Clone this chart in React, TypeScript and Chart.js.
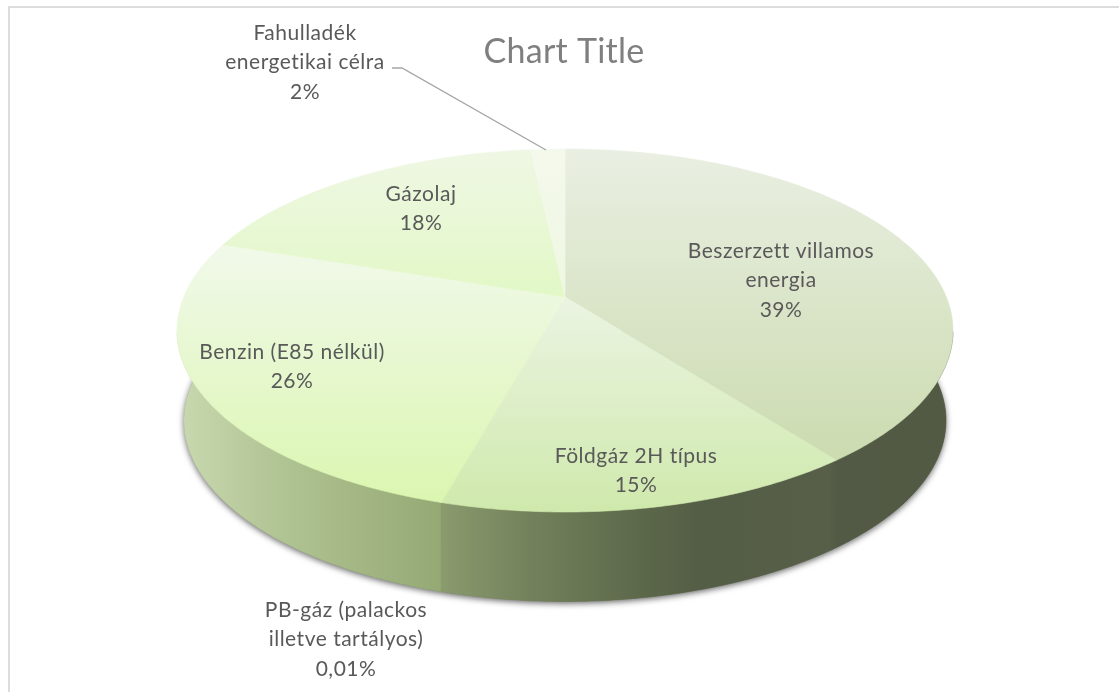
import React, { useEffect, useRef } from "react";
import { Chart, registerables } from "chart.js";

Chart.register(...registerables);

const categories = [
  "Beszerzett villamos energia",
  "Földgáz 2H típus",
  "PB-gáz (palackos illetve tartályos)",
  "Benzin (E85 nélkül)",
  "Gázolaj",
  "Fahulladék energetikai célra",
];
const shares = [39.6, 14.7, 0.01, 25.8, 18.2, 1.7];
const shareLabels = ["39%", "15%", "0,01%", "26%", "18%", "2%"];
const labelLines = [
  ["Beszerzett villamos", "energia"],
  ["Földgáz 2H típus"],
  ["PB-gáz (palackos", "illetve tartályos)"],
  ["Benzin (E85 nélkül)"],
  ["Gázolaj"],
  ["Fahulladék", "energetikai célra"],
];
const faceTop = ["#e9efe2", "#ebf4e2", "#eef8e4", "#f1f9ea", "#eff7e4", "#f4f9ec"];
const faceBottom = ["#ccdbb0", "#cfe9ac", "#dcf6b2", "#dbf6b0", "#e2f8c6", "#eff7e2"];
const title = "Chart Title";

// Layout of the drawing (not data).
const labelCenters: [number, number][] = [
  [781, 251],
  [636, 456],
  [346, 610],
  [292, 352],
  [421, 194],
  [305, 33],
];
const LINE_H = 29.5;
const PERSPECTIVE = 0.1846;
const X_STRETCH = 381.3 / 148;
const Y_STRETCH = 175.3 / 148;
const DEPTH = 90;
const BASE_SHRINK = 0.982;
const FONT = 'Lato, "Open Sans", sans-serif';
const wallStops: [number, string][] = [
  [0, "#c9d9b0"],
  [0.15, "#aec190"],
  [0.3392, "#95a975"],
  [0.3405, "#8a9b6e"],
  [0.45, "#74825c"],
  [0.6, "#5c684a"],
  [0.68, "#545d45"],
  [0.84, "#575f49"],
  [0.85, "#525a45"],
  [1, "#525a44"],
];

type Pt = { x: number; y: number };

function project(arc: any, angle: number): Pt {
  const u = Math.cos(angle);
  const v = Math.sin(angle);
  const w = 1 - PERSPECTIVE * v;
  return {
    x: arc.x + (arc.outerRadius * X_STRETCH * u) / w,
    y: arc.y + (arc.outerRadius * Y_STRETCH * v) / w,
  };
}

function outline(arc: any): Pt[] {
  const n = Math.max(2, Math.ceil((arc.endAngle - arc.startAngle) / 0.01));
  const pts: Pt[] = [];
  for (let i = 0; i <= n; i++) pts.push(project(arc, arc.startAngle + ((arc.endAngle - arc.startAngle) * i) / n));
  return pts;
}

const pie3d = {
  id: "pie3d",
  beforeDatasetsDraw(chart: any) {
    const ctx: CanvasRenderingContext2D = chart.ctx;
    const arcs: any[] = chart.getDatasetMeta(0).data;
    const a0 = arcs[0];
    const ring: Pt[] = [];
    for (let i = 0; i <= 720; i++) ring.push(project(a0, (i / 720) * Math.PI * 2));
    const xs = ring.map((p) => p.x);
    const ys = ring.map((p) => p.y);
    const xMin = Math.min(...xs);
    const xMax = Math.max(...xs);
    const ex = (xMin + xMax) / 2;
    const ey = (Math.min(...ys) + Math.max(...ys)) / 2;
    const toBase = (p: Pt): Pt => ({
      x: ex + (p.x - ex) * BASE_SHRINK,
      y: ey + (p.y - ey) * 0.997 + DEPTH,
    });

    ctx.save();
    // everything of the solid's body lives below the widest line of the top face
    ctx.beginPath();
    ctx.rect(0, ey + 1, chart.width, chart.height);
    ctx.clip();

    // soft shadow below the solid
    ctx.save();
    ctx.shadowColor = "rgba(0,0,0,0.6)";
    ctx.shadowBlur = 6;
    ctx.shadowOffsetY = 2;
    ctx.fillStyle = "#6b7558";
    ctx.beginPath();
    ring.map(toBase).forEach((p, i) => (i ? ctx.lineTo(p.x, p.y) : ctx.moveTo(p.x, p.y)));
    ctx.closePath();
    ctx.fill();
    ctx.restore();

    // side wall
    const wall = ctx.createLinearGradient(xMin, 0, xMax, 0);
    wallStops.forEach(([o, c]) => wall.addColorStop(o, c));
    arcs.forEach((arc) => {
      const top = outline(arc);
      const base = top.map(toBase).reverse();
      ctx.beginPath();
      [...top, ...base].forEach((p, i) => (i ? ctx.lineTo(p.x, p.y) : ctx.moveTo(p.x, p.y)));
      ctx.closePath();
      ctx.fillStyle = wall;
      ctx.strokeStyle = wall;
      ctx.lineWidth = 0.6;
      ctx.fill();
      ctx.stroke();
    });
    ctx.restore();

    // top faces
    ctx.save();
    arcs.forEach((arc, i) => {
      const pts = [{ x: arc.x, y: arc.y }, ...outline(arc)];
      const yy = pts.map((p) => p.y);
      const g = ctx.createLinearGradient(0, Math.min(...yy), 0, Math.max(...yy));
      g.addColorStop(0, faceTop[i]);
      g.addColorStop(1, faceBottom[i]);
      ctx.beginPath();
      pts.forEach((p, k) => (k ? ctx.lineTo(p.x, p.y) : ctx.moveTo(p.x, p.y)));
      ctx.closePath();
      ctx.fillStyle = g;
      ctx.strokeStyle = g;
      ctx.lineWidth = 0.6;
      ctx.fill();
      ctx.stroke();
    });
    ctx.restore();
    return false;
  },
  afterDraw(chart: any) {
    const ctx: CanvasRenderingContext2D = chart.ctx;
    ctx.save();
    // card edge
    ctx.fillStyle = "#dcdcdc";
    ctx.fillRect(8, 6, 1111, 2);
    ctx.fillRect(8, 6, 2, 686);

    // leader line of the small slice
    ctx.strokeStyle = "#a6a6a6";
    ctx.lineWidth = 1.4;
    ctx.beginPath();
    ctx.moveTo(392, 68);
    ctx.lineTo(402, 68);
    ctx.lineTo(546, 150);
    ctx.stroke();

    ctx.textAlign = "center";
    ctx.textBaseline = "middle";
    ctx.fillStyle = "#7f7f7f";
    ctx.font = `34px ${FONT}`;
    (ctx as any).letterSpacing = "0.25px";
    ctx.fillText(title, 564, 52);

    ctx.fillStyle = "#595959";
    ctx.font = `21px ${FONT}`;
    (ctx as any).letterSpacing = "0.5px";
    categories.forEach((_, i) => {
      const [cx, cy] = labelCenters[i];
      [...labelLines[i], shareLabels[i]].forEach((t, k) => ctx.fillText(t, cx, cy + k * LINE_H));
    });
    ctx.restore();
  },
};

export default function App() {
  const ref = useRef<HTMLCanvasElement>(null);
  useEffect(() => {
    const chart = new Chart(ref.current!, {
      type: "pie",
      data: {
        labels: categories,
        datasets: [{ data: shares, backgroundColor: faceBottom, borderWidth: 0 }],
      },
      options: {
        animation: false,
        responsive: false,
        events: [],
        layout: { padding: { left: 417, right: 406, top: 149, bottom: 247 } },
        plugins: { legend: { display: false }, tooltip: { enabled: false }, title: { display: false } },
      },
      plugins: [pie3d],
    } as any);
    return () => chart.destroy();
  }, []);
  return (
    <div style={{ position: "fixed", left: 0, top: 0, width: 1119, height: 692, background: "#fff" }}>
      <canvas ref={ref} width={1119} height={692} style={{ display: "block" }} />
    </div>
  );
}
